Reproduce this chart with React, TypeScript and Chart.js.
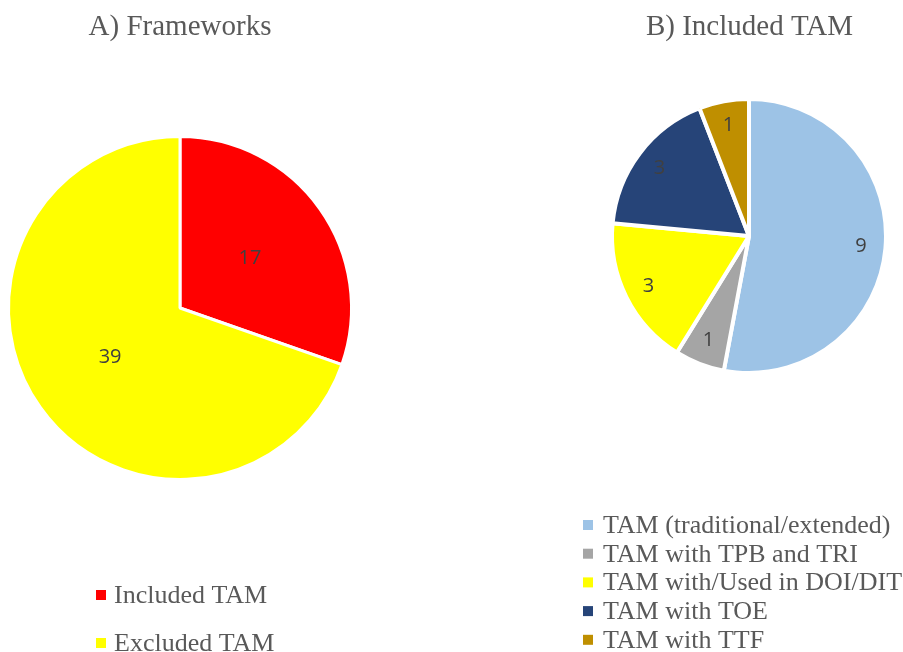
import React, { useEffect, useRef } from "react";
import { Chart, registerables } from "chart.js";

Chart.register(...registerables);

// ---- Data ----
const frameworkTitle = "A) Frameworks";
const frameworkLabels = ["Included TAM", "Excluded TAM"];
const frameworkValues = [17, 39];
const frameworkColors = ["#FF0000", "#FFFF00"];

const tamTitle = "B) Included TAM";
const tamLabels = [
  "TAM (traditional/extended)",
  "TAM with TPB and TRI",
  "TAM with/Used in DOI/DIT",
  "TAM with TOE",
  "TAM with TTF",
];
const tamValues = [9, 1, 3, 3, 1];
const tamColors = ["#9DC3E6", "#A5A5A5", "#FFFF00", "#264478", "#BF8F00"];

const TEXT_COLOR = "#595959";
const LABEL_COLOR = "#404040";
const SERIF = "'Liberation Serif', 'Times New Roman', serif";
const SANS = "'Open Sans', 'Noto Sans', sans-serif";

type DecorOpts = {
  title: string;
  titleX: number;
  titleBaseline: number;
  labelFactor: number;
  legendSquareX: number;
  legendTextX: number;
  legendFirstY: number;
  legendStep: number;
  squareSize: number;
};

const decorPlugin = {
  id: "decor",
  afterDatasetsDraw(chart: any, _args: any, opts: DecorOpts) {
    const ctx = chart.ctx;
    const meta = chart.getDatasetMeta(0);
    const ds = chart.data.datasets[0];
    ctx.save();
    ctx.font = `20px ${SANS}`;
    ctx.fillStyle = LABEL_COLOR;
    ctx.textAlign = "center";
    ctx.textBaseline = "middle";
    meta.data.forEach((arc: any, i: number) => {
      const p = arc.getProps(["x", "y", "startAngle", "endAngle", "outerRadius"], true);
      const mid = (p.startAngle + p.endAngle) / 2;
      const r = p.outerRadius * opts.labelFactor;
      ctx.fillText(String(ds.data[i]), p.x + Math.cos(mid) * r, p.y + Math.sin(mid) * r);
    });
    ctx.restore();
  },
  afterDraw(chart: any, _args: any, opts: DecorOpts) {
    const ctx = chart.ctx;
    const ds = chart.data.datasets[0];
    ctx.save();
    // title
    ctx.font = `29px ${SERIF}`;
    ctx.fillStyle = TEXT_COLOR;
    ctx.textAlign = "center";
    ctx.textBaseline = "alphabetic";
    ctx.fillText(opts.title, opts.titleX, opts.titleBaseline);
    // legend
    ctx.font = `26px ${SERIF}`;
    ctx.textAlign = "left";
    chart.data.labels.forEach((label: string, i: number) => {
      const cy = opts.legendFirstY + i * opts.legendStep;
      ctx.fillStyle = ds.backgroundColor[i];
      const s = opts.squareSize;
      ctx.fillRect(opts.legendSquareX, cy - s / 2, s, s);
      ctx.fillStyle = TEXT_COLOR;
      ctx.fillText(label, opts.legendTextX, cy + 8);
    });
    ctx.restore();
  },
};

function PieCanvas(props: {
  width: number;
  height: number;
  left: number;
  labels: string[];
  values: number[];
  colors: string[];
  radius: number;
  borderWidth: number;
  padding: { left: number; right: number; top: number; bottom: number };
  decor: DecorOpts;
}) {
  const ref = useRef<HTMLCanvasElement>(null);
  useEffect(() => {
    if (!ref.current) return;
    const chart = new Chart(ref.current, {
      type: "pie",
      data: {
        labels: props.labels,
        datasets: [
          {
            data: props.values,
            backgroundColor: props.colors,
            borderColor: "#FFFFFF",
            borderWidth: props.borderWidth,
            radius: props.radius,
          } as any,
        ],
      },
      options: {
        responsive: false,
        animation: false,
        devicePixelRatio: 1,
        layout: { padding: props.padding },
        plugins: {
          legend: { display: false },
          title: { display: false },
          tooltip: { enabled: false },
          decor: props.decor,
        } as any,
      },
      plugins: [decorPlugin],
    });
    return () => chart.destroy();
  }, []);
  return (
    <canvas
      ref={ref}
      width={props.width}
      height={props.height}
      style={{ position: "absolute", left: props.left, top: 0, width: props.width, height: props.height }}
    />
  );
}

export default function App() {
  return (
    <div style={{ position: "absolute", left: 0, top: 0, width: 903, height: 652, background: "#fff", overflow: "hidden" }}>
      <PieCanvas
        width={450}
        height={652}
        left={0}
        labels={frameworkLabels}
        values={frameworkValues}
        colors={frameworkColors}
        radius={171.5}
        borderWidth={3}
        padding={{ left: 8, right: 98, top: 136, bottom: 172 }}
        decor={{
          title: frameworkTitle,
          titleX: 180,
          titleBaseline: 35,
          labelFactor: 0.5,
          legendSquareX: 96,
          legendTextX: 114,
          legendFirstY: 595,
          legendStep: 48,
          squareSize: 10,
        }}
      />
      <PieCanvas
        width={453}
        height={652}
        left={450}
        labels={tamLabels}
        values={tamValues}
        colors={tamColors}
        radius={137}
        borderWidth={4}
        padding={{ left: 161, right: 16, top: 98, bottom: 278 }}
        decor={{
          title: tamTitle,
          titleX: 299.5,
          titleBaseline: 35,
          labelFactor: 0.82,
          legendSquareX: 133,
          legendTextX: 153,
          legendFirstY: 525,
          legendStep: 28.7,
          squareSize: 10,
        }}
      />
    </div>
  );
}
